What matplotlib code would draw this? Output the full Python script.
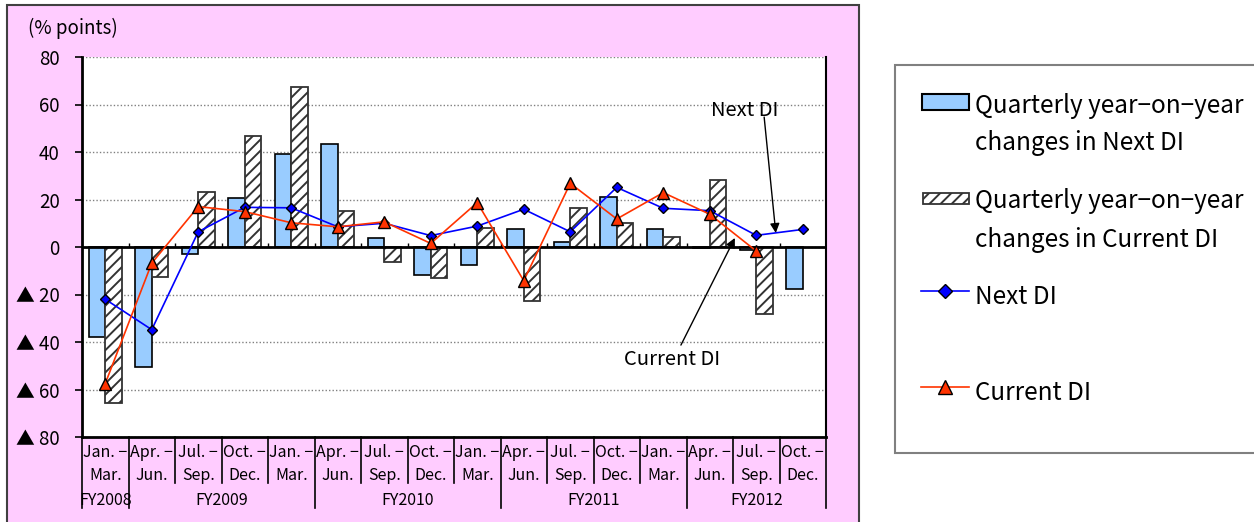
import numpy as np
import matplotlib
matplotlib.use("Agg")
import matplotlib.pyplot as plt
from matplotlib.patches import Rectangle
from matplotlib.lines import Line2D

plt.rcParams['font.family'] = ['Noto Sans CJK JP', 'DejaVu Sans']
plt.rcParams['hatch.linewidth'] = 1.4

# data
quarter_top = ['Jan. −', 'Apr. −', 'Jul. −', 'Oct. −', 'Jan. −', 'Apr. −', 'Jul. −', 'Oct. −',
               'Jan. −', 'Apr. −', 'Jul. −', 'Oct. −', 'Jan. −', 'Apr. −', 'Jul. −', 'Oct. −']
quarter_bot = ['Mar.', 'Jun.', 'Sep.', 'Dec.', 'Mar.', 'Jun.', 'Sep.', 'Dec.',
               'Mar.', 'Jun.', 'Sep.', 'Dec.', 'Mar.', 'Jun.', 'Sep.', 'Dec.']
fiscal_years = ['FY2008', 'FY2009', 'FY2010', 'FY2011', 'FY2012']
fy_counts = [1, 4, 4, 4, 3]

next_change = [-37.8, -50.4, -3.1, 20.8, 39.2, 43.5, 3.9, -11.9,
               -7.6, 7.6, 2.0, 20.9, 7.6, -0.5, -1.3, -17.7]
current_change = [-65.5, -12.5, 23.2, 46.6, 67.3, 15.1, -6.3, -13.2,
                  8.1, -22.7, 16.4, 10.1, 4.4, 28.4, -28.2, np.nan]
next_di = [-22.0, -34.8, 6.4, 16.7, 16.5, 8.5, 10.0, 4.8,
           8.8, 15.9, 6.4, 25.1, 16.3, 15.3, 4.9, 7.4]
current_di = [-57.5, -6.8, 17.0, 14.9, 10.2, 8.5, 10.6, 1.5,
              18.7, -14.2, 26.8, 11.8, 22.9, 13.8, -1.7, np.nan]

yticks = [-80, -60, -40, -20, 0, 20, 40, 60, 80]
ytick_labels = ['▲ 80', '▲ 60', '▲ 40', '▲ 20', '0', '20', '40', '60', '80']

legend_labels = ['Quarterly year−on−year\nchanges in Next DI',
                 'Quarterly year−on−year\nchanges in Current DI',
                 'Next DI', 'Current DI']

BLUE_BAR = '#99CCFF'
BLUE = '#0000FF'
RED = '#FF3300'
HATCH_EDGE = '#333333'

W, H = 1254, 522
fig = plt.figure(figsize=(W / 100, H / 100), dpi=100)


def fx(p):
    return p / W


def fy(p):
    return 1 - p / H


# pink panel behind the chart
fig.patches.append(Rectangle((fx(7), fy(540)), fx(859) - fx(7), fy(5) - fy(540),
                             transform=fig.transFigure, facecolor='#FFCCFF',
                             edgecolor='#404040', lw=1.5, zorder=-10))

ax = fig.add_axes([fx(82), fy(437), (826 - 82) / W, (437 - 57) / H])
ax.set_zorder(1)
ax.set_facecolor('white')

x = np.arange(len(quarter_top))
w = 0.355
ax.bar(x - w / 2, next_change, w, color=BLUE_BAR, edgecolor='black', lw=1.2, zorder=2)
ax.bar(x + w / 2, current_change, w, color='white', edgecolor=HATCH_EDGE,
       hatch='///', lw=1.3, zorder=2)

ax.axhline(0, color='black', lw=2, zorder=3)
ax.vlines(x[1:] - 0.5, 0, 1.8, color='black', lw=1, zorder=3)

ax.plot(x, next_di, color=BLUE, lw=1.2, marker='D', ms=5.5,
        mfc=BLUE, mec='black', mew=1, zorder=4)
ax.plot(x, current_di, color=RED, lw=1.2, marker='^', ms=8.5,
        mfc=RED, mec='black', mew=1, zorder=5)

ax.set_xlim(-0.5, len(x) - 0.5)
ax.set_ylim(-80, 80)
ax.set_yticks(yticks)
ax.set_yticklabels(ytick_labels, fontsize=13.5)
ax.set_xticks([])
ax.tick_params(axis='y', direction='out', length=5, width=1.2, pad=11)
ax.yaxis.grid(True, linestyle=(0, (1, 1.5)), color='#808080', lw=1)
ax.set_axisbelow(True)

ax.spines['top'].set_visible(False)
ax.spines['left'].set_linewidth(2)
ax.spines['bottom'].set_linewidth(2)
ax.spines['right'].set_linewidth(1.5)

# category labels and dividers
trans = ax.get_xaxis_transform()
for i in x:
    ax.text(i, -0.04, quarter_top[i], transform=trans, ha='center', va='center', fontsize=11.5)
    ax.text(i, -0.10, quarter_bot[i], transform=trans, ha='center', va='center', fontsize=11.5)

fy_edges = -0.5 + np.cumsum([0] + fy_counts)
for b in np.arange(len(x) + 1) - 0.5:
    y_end = -0.187 if np.any(np.isclose(fy_edges, b)) else -0.121
    ax.plot([b, b], [0, y_end], transform=trans, clip_on=False, color='black', lw=1.2)
for name, lo, hi in zip(fiscal_years, fy_edges[:-1], fy_edges[1:]):
    ax.text((lo + hi) / 2, -0.166, name, transform=trans, ha='center', va='center', fontsize=11.5)

# in-chart annotations
ax.text(13.75, 55.2, 'Next DI', ha='center', va='baseline', fontsize=14.5)
ax.annotate('', xy=(14.42, 5.9), xytext=(14.17, 54.7),
            arrowprops=dict(arrowstyle='-|>', color='black', lw=1, mutation_scale=14,
                            shrinkA=0, shrinkB=0))
ax.text(12.18, -49.7, 'Current DI', ha='center', va='baseline', fontsize=14.5)
ax.annotate('', xy=(13.54, 3.8), xytext=(12.38, -41.3),
            arrowprops=dict(arrowstyle='-|>', color='black', lw=1, mutation_scale=14,
                            shrinkA=0, shrinkB=0))

fig.text(fx(28), fy(34), '(% points)', ha='left', va='baseline', fontsize=13.5)

# legend box drawn by hand to follow the original spacing
fig.patches.append(Rectangle((fx(895), fy(453)), fx(1270) - fx(895), fy(65) - fy(453),
                             transform=fig.transFigure, facecolor='white',
                             edgecolor='#808080', lw=1.5, zorder=1))
fig.patches.append(Rectangle((fx(922), fy(110)), fx(969) - fx(922), fy(94) - fy(110),
                             transform=fig.transFigure, facecolor=BLUE_BAR,
                             edgecolor='black', lw=1.5, zorder=2))
fig.patches.append(Rectangle((fx(923), fy(204)), fx(969) - fx(923), fy(193) - fy(204),
                             transform=fig.transFigure, facecolor='white', hatch='///',
                             edgecolor=HATCH_EDGE, lw=1.3, zorder=2))
for yy, col, mk, ms in [(290.7, BLUE, 'D', 7), (386.7, RED, '^', 10.5)]:
    fig.lines.append(Line2D([fx(921), fx(969)], [fy(yy)] * 2, transform=fig.transFigure,
                            color=col, lw=1.2, zorder=2))
    fig.lines.append(Line2D([fx(945)], [fy(yy)], transform=fig.transFigure, marker=mk, ms=ms,
                            mfc=col, mec='black', mew=1, lw=0, zorder=3))

baselines = [(113, 150), (208, 247), (304,), (400,)]
for lab, bl in zip(legend_labels, baselines):
    for line, b in zip(lab.split('\n'), bl):
        fig.text(fx(975), fy(b), line, ha='left', va='baseline', fontsize=17.5)

fig.savefig('out.png', dpi=100)
